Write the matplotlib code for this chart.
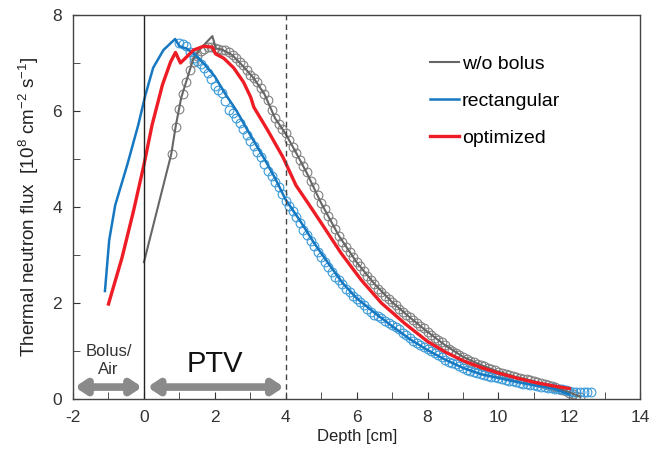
import numpy as np
import matplotlib.pyplot as plt
from matplotlib.ticker import MultipleLocator

plt.rcParams['font.family'] = ['Liberation Sans', 'DejaVu Sans']
plt.rcParams['mathtext.fontset'] = 'custom'
plt.rcParams['mathtext.rm'] = 'Liberation Sans'
plt.rcParams['mathtext.it'] = 'Liberation Sans:italic'
plt.rcParams['axes.unicode_minus'] = False

# simulated curves (lines)
gray_x = [0.0, 0.77, 0.9, 1.05, 1.25, 1.4, 1.6, 1.75, 1.93, 2.03, 2.2, 2.5, 2.8, 3.1, 3.4,
          3.7, 4.0, 4.3, 4.6, 5.0, 5.5, 6.0, 6.5, 7.0, 7.5, 8.0, 8.5, 9.0, 9.5, 10.0,
          10.5, 11.0, 11.5, 12.0, 12.3]
gray_y = [2.85, 5.1, 5.7, 6.27, 6.75, 7.1, 7.3, 7.42, 7.56, 7.3, 7.28, 7.16, 6.93, 6.68, 6.35,
          5.85, 5.52, 5.12, 4.70, 4.08, 3.40, 2.85, 2.40, 2.02, 1.70, 1.40, 1.12, 0.88, 0.71, 0.57,
          0.46, 0.37, 0.27, 0.14, 0.05]

blue_x = [-1.1, -0.98, -0.81, -0.47, -0.16, 0.04, 0.26, 0.55, 0.88, 1.0, 1.2, 1.4, 1.7, 2.0,
          2.3, 2.6, 3.0, 3.4, 3.7, 4.0, 4.4, 4.8, 5.2, 5.6, 6.0, 6.5, 7.0, 7.5, 8.0, 8.5,
          9.0, 9.5, 10.0, 10.5, 11.0, 11.5, 12.0]
blue_y = [2.25, 3.31, 4.04, 4.88, 5.71, 6.33, 6.9, 7.27, 7.5, 7.35, 7.3, 7.2, 6.98, 6.72,
          6.35, 6.02, 5.5, 5.0, 4.6, 4.15, 3.72, 3.25, 2.83, 2.42, 2.10, 1.80, 1.52, 1.25, 1.02, 0.82,
          0.65, 0.52, 0.44, 0.36, 0.29, 0.23, 0.10]

red_x = [-1.0, -0.62, -0.3, 0.0, 0.23, 0.52, 0.75, 0.89, 1.03, 1.4, 1.69, 1.93, 2.02, 2.25,
         2.53, 2.81, 3.01, 3.10, 3.49, 3.92, 4.29, 4.63, 5.0, 5.56, 6.13, 6.7, 7.35, 8.0, 8.5,
         9.0, 9.5, 10.0, 10.5, 11.0, 11.5, 12.0]
red_y = [1.98, 2.94, 3.9, 4.88, 5.71, 6.54, 7.02, 7.22, 7.0, 7.27, 7.35, 7.33, 7.19, 7.1,
         6.9, 6.6, 6.29, 6.08, 5.6, 5.04, 4.45, 4.08, 3.67, 3.04, 2.48, 2.0, 1.58, 1.20, 0.98,
         0.80, 0.66, 0.54, 0.44, 0.35, 0.28, 0.22]

# measured points (circles)
gray_pts_x = [0.8, 0.9, 1.0, 1.1, 1.2, 1.3, 1.4, 1.5, 1.6, 1.7, 1.8, 1.9, 2.0, 2.1, 2.2, 2.3,
              2.4, 2.5, 2.6, 2.7, 2.8, 2.9, 3.0, 3.1, 3.2, 3.3, 3.4, 3.5, 3.6, 3.7, 3.8, 3.9,
              4.0, 4.1, 4.2, 4.3, 4.4, 4.5, 4.6, 4.7, 4.8, 4.9, 5.0, 5.1, 5.2, 5.3, 5.4, 5.5,
              5.6, 5.7, 5.8, 5.9, 6.0, 6.1, 6.2, 6.3, 6.4, 6.5, 6.6, 6.7, 6.8, 6.9, 7.0, 7.1,
              7.2, 7.3, 7.4, 7.5, 7.6, 7.7, 7.8, 7.9, 8.0, 8.1, 8.2, 8.3, 8.4, 8.5, 8.6, 8.7,
              8.8, 8.9, 9.0, 9.1, 9.2, 9.3, 9.4, 9.5, 9.6, 9.7, 9.8, 9.9, 10.0, 10.1, 10.2, 10.3,
              10.4, 10.5, 10.6, 10.7, 10.8, 10.9, 11.0, 11.1, 11.2, 11.3, 11.4, 11.5, 11.6, 11.7,
              11.8, 11.9, 12.0, 12.1, 12.2, 12.3]
gray_pts_y = [5.10, 5.67, 6.05, 6.35, 6.60, 6.85, 7.02, 7.15, 7.25, 7.30, 7.33, 7.33, 7.31, 7.30, 7.28, 7.27,
              7.22, 7.16, 7.10, 7.03, 6.95, 6.85, 6.76, 6.68, 6.60, 6.48, 6.36, 6.22, 6.03, 5.85, 5.72, 5.62,
              5.54, 5.40, 5.26, 5.12, 4.98, 4.85, 4.72, 4.54, 4.42, 4.25, 4.08, 3.95, 3.82, 3.68, 3.55, 3.40,
              3.28, 3.17, 3.06, 2.95, 2.85, 2.77, 2.66, 2.57, 2.48, 2.40, 2.30, 2.22, 2.15, 2.08, 2.02, 1.95,
              1.88, 1.82, 1.75, 1.70, 1.65, 1.58, 1.52, 1.47, 1.40, 1.33, 1.28, 1.22, 1.18, 1.12, 1.05, 1.00,
              0.96, 0.92, 0.88, 0.84, 0.80, 0.77, 0.74, 0.71, 0.68, 0.65, 0.62, 0.60, 0.57, 0.55, 0.53, 0.50,
              0.48, 0.46, 0.44, 0.42, 0.41, 0.39, 0.37, 0.35, 0.33, 0.31, 0.29, 0.27, 0.25, 0.22,
              0.19, 0.16, 0.13, 0.10, 0.07, 0.05]

blue_pts_x = [1.0, 1.1, 1.2, 1.3, 1.4, 1.5, 1.6, 1.7, 1.8, 1.9, 2.0, 2.1, 2.2, 2.3, 2.4, 2.5,
              2.6, 2.7, 2.8, 2.9, 3.0, 3.1, 3.2, 3.3, 3.4, 3.5, 3.6, 3.7, 3.8, 3.9, 4.0, 4.1,
              4.2, 4.3, 4.4, 4.5, 4.6, 4.7, 4.8, 4.9, 5.0, 5.1, 5.2, 5.3, 5.4, 5.5, 5.6, 5.7,
              5.8, 5.9, 6.0, 6.1, 6.2, 6.3, 6.4, 6.5, 6.6, 6.7, 6.8, 6.9, 7.0, 7.1, 7.2, 7.3,
              7.4, 7.5, 7.6, 7.7, 7.8, 7.9, 8.0, 8.1, 8.2, 8.3, 8.4, 8.5, 8.6, 8.7, 8.8, 8.9,
              9.0, 9.1, 9.2, 9.3, 9.4, 9.5, 9.6, 9.7, 9.8, 9.9, 10.0, 10.1, 10.2, 10.3, 10.4, 10.5,
              10.6, 10.7, 10.8, 10.9, 11.0, 11.1, 11.2, 11.3, 11.4, 11.5, 11.6, 11.7, 11.8, 11.9,
              12.0, 12.1, 12.2, 12.3, 12.4, 12.5, 12.6]
blue_pts_y = [7.42, 7.40, 7.35, 7.22, 7.10, 7.05, 6.98, 6.90, 6.80, 6.66, 6.52, 6.44, 6.38, 6.20, 6.02, 5.95,
              5.85, 5.75, 5.62, 5.50, 5.38, 5.28, 5.15, 5.05, 4.90, 4.75, 4.65, 4.52, 4.42, 4.28, 4.12, 4.02,
              3.92, 3.80, 3.66, 3.52, 3.42, 3.30, 3.18, 3.06, 2.96, 2.85, 2.75, 2.64, 2.55, 2.48, 2.40, 2.30,
              2.22, 2.15, 2.08, 2.02, 1.95, 1.87, 1.82, 1.76, 1.72, 1.68, 1.63, 1.58, 1.54, 1.50, 1.45, 1.38,
              1.33, 1.27, 1.21, 1.16, 1.12, 1.08, 1.04, 1.00, 0.96, 0.92, 0.87, 0.82, 0.78, 0.75, 0.72, 0.68,
              0.64, 0.61, 0.59, 0.57, 0.55, 0.52, 0.50, 0.48, 0.46, 0.45, 0.44, 0.42, 0.40, 0.38, 0.37, 0.35,
              0.34, 0.32, 0.31, 0.30, 0.29, 0.28, 0.26, 0.25, 0.24, 0.23, 0.22, 0.21, 0.20, 0.19,
              0.17, 0.15, 0.14, 0.14, 0.14, 0.14, 0.15]

gray_c = '#666666'
blue_c = '#1778c2'
red_c = '#ee1c24'

fig = plt.figure(figsize=(6.58, 4.54), dpi=100)
ax = fig.add_axes([0.111, 0.121, 0.862, 0.846])

ax.plot(gray_pts_x, gray_pts_y, 'o', ms=6.3, mfc='none', mec='#808080', mew=0.8)
ax.plot(blue_pts_x, blue_pts_y, 'o', ms=6.3, mfc='none', mec='#3a9ad9', mew=0.8)
ax.plot(gray_x, gray_y, color=gray_c, lw=1.5, label='w/o bolus')
ax.plot(blue_x, blue_y, color=blue_c, lw=1.8, label='rectangular')
ax.plot(red_x, red_y, color=red_c, lw=2.4, label='optimized')

ax.axvline(0, color='#222222', lw=1.0)
ax.axvline(4, color='#444444', lw=1.0, ls=(0, (4, 3)))

# region arrows
arrow_kw = dict(arrowstyle='<|-|>,head_length=0.6,head_width=0.4', lw=5.5,
                color='#8a8a8a', shrinkA=0, shrinkB=0)
ax.annotate('', xy=(-0.05, 0.25), xytext=(-1.95, 0.25), arrowprops=arrow_kw)
ax.annotate('', xy=(3.95, 0.25), xytext=(0.1, 0.25), arrowprops=arrow_kw)
ax.text(-1.0, 0.8, 'Bolus/\nAir', ha='center', va='center', fontsize=12,
        color='#333333', linespacing=1.2)
ax.text(2.0, 0.74, 'PTV', ha='center', va='center', fontsize=21, color='#111111')

ax.set_xlim(-2, 14)
ax.set_ylim(0, 8)
ax.xaxis.set_major_locator(MultipleLocator(2))
ax.xaxis.set_minor_locator(MultipleLocator(1))
ax.yaxis.set_major_locator(MultipleLocator(2))
ax.yaxis.set_minor_locator(MultipleLocator(1))
ax.tick_params(which='both', direction='in', labelsize=12.5, colors='#333333')
ax.tick_params(which='major', length=5, pad=8)
ax.tick_params(which='minor', length=5)
for s in ax.spines.values():
    s.set_color('#444444')
    s.set_linewidth(1.0)

ax.set_xlabel('Depth [cm]', fontsize=12, color='#222222', labelpad=3)
ax.set_ylabel('Thermal neutron flux  [10$^{8}$ cm$^{-2}$ s$^{-1}$]', fontsize=13.6,
              color='#222222', labelpad=8)

ax.legend(loc='upper right', bbox_to_anchor=(0.89, 0.94), frameon=False, fontsize=14,
          handlelength=1.5, handletextpad=0.15, labelspacing=1.0)

fig.savefig('out.png', dpi=100)
